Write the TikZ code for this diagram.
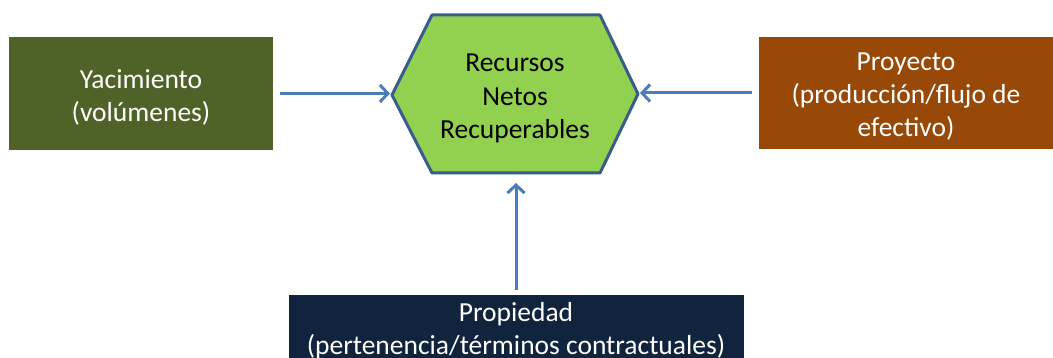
\documentclass[tikz,border=0pt]{standalone}
\usepackage{fontspec}
\setmainfont{Carlito}
\usetikzlibrary{arrows.meta}
\definecolor{olivebox}{HTML}{4F6228}
\definecolor{brownbox}{HTML}{984807}
\definecolor{navybox}{HTML}{10243E}
\definecolor{hexfill}{HTML}{92D050}
\definecolor{hexline}{HTML}{385D8A}
\definecolor{arrowblue}{HTML}{4A7EBB}

\begin{document}
\begin{tikzpicture}[x=1pt,y=1pt,
    box/.style={rectangle, text=white, align=center, inner sep=0pt, text depth=0pt,
      font=\fontsize{27.5}{33.3}\selectfont},
    conn/.style={-{Straight Barb[length=8pt,width=17pt]}, arrowblue, line width=3pt}]
  \useasboundingbox (0,0) rectangle (1053,358);
  \node[box, fill=olivebox, minimum width=264, minimum height=113, text height=57pt]
    (yac) at (141,264.5) {Yacimiento\\(volúmenes)};
  \node[box, fill=brownbox, minimum width=294, minimum height=112, text height=88pt]
    (proy) at (906,265) {Proyecto\\(producción/flujo de\\efectivo)};
  \node[box, fill=navybox, minimum width=455, minimum height=72, text height=48pt]
    (prop) at (516,27) {Propiedad\\(pertenencia/términos contractuales)};
  % hexagono central
  \coordinate (hexL) at (392,263);
  \coordinate (hexTL) at (432,343);
  \coordinate (hexTR) at (600,343);
  \coordinate (hexR) at (638,264);
  \coordinate (hexBR) at (600,185);
  \coordinate (hexBL) at (432,185);
  \coordinate (hexB) at (516,185);
  \draw[fill=hexfill, draw=hexline, line width=3pt, line join=round]
    (hexL) -- (hexTL) -- (hexTR) -- (hexR) -- (hexBR) -- (hexBL) -- cycle;
  \node[align=center, font=\fontsize{27.5}{33.3}\selectfont] (rnr) at (515,259.5)
    {Recursos\\Netos\\Recuperables};
  \draw[conn, shorten <=7pt, shorten >=2pt] (yac.east) -- (yac.east -| hexL);
  \draw[conn, shorten <=7pt, shorten >=2pt] (proy.west) -- (proy.west -| hexR);
  \draw[conn, shorten <=5pt, shorten >=10pt] (prop.north) -- (hexB);
\end{tikzpicture}
\end{document}
